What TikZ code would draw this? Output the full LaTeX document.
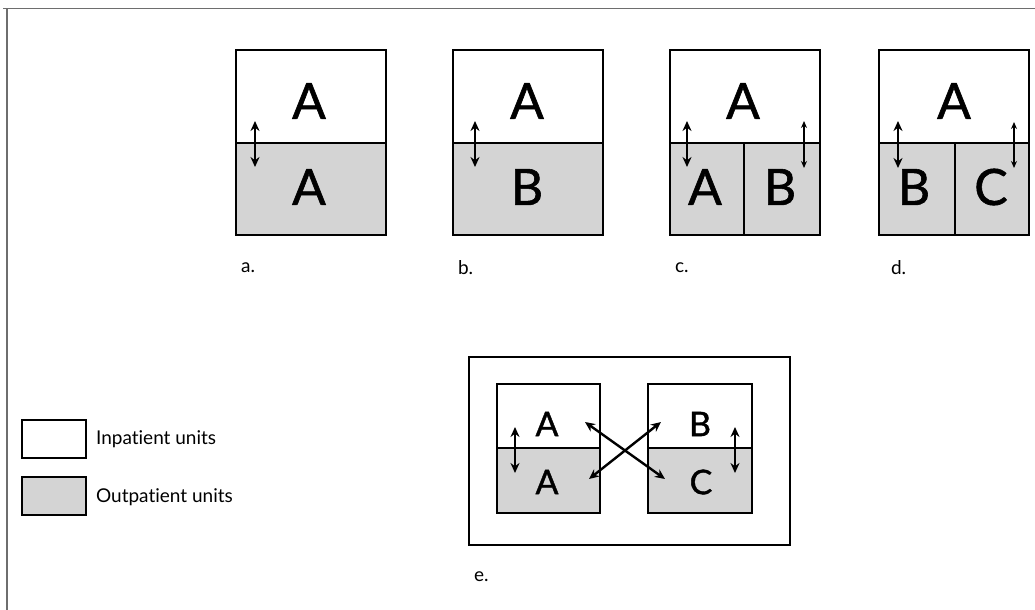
\documentclass[tikz,border=0pt]{standalone}
\usepackage{fontspec}
\setmainfont{Lato}[Ligatures=NoCommon]
\newfontfamily\letterfont{Lato}[FakeBold=1.2]
\usetikzlibrary{arrows.meta}
\definecolor{outgray}{RGB}{212,212,212}
\definecolor{framegray}{RGB}{110,110,110}
\tikzset{
	unit/.style={draw=black, line width=1.4pt},
	split/.style={draw=black, line width=1.2pt},
	outpatient/.style={fill=outgray},
	link/.style={{Stealth[length=5pt,width=4.5pt]}-{Stealth[length=5pt,width=4.5pt]}, line width=1.2pt},
	thinlink/.style={{Stealth[length=3.5pt,width=3pt]}-{Stealth[length=3.5pt,width=3pt]}, line width=0.6pt},
	big/.style={font=\letterfont\fontsize{25}{25}\selectfont},
	mid/.style={font=\letterfont\fontsize{17}{17}\selectfont},
	tag/.style={font=\fontsize{9.5}{10}\selectfont, anchor=west}
}
\begin{document}
\begin{tikzpicture}[x=0.5pt, y=-0.5pt]
	\useasboundingbox (0,0) rectangle (1035,610);
	% page frame
	\draw[framegray, line width=0.6pt] (3,8.5) -- (1035,8.5);
	\draw[framegray, line width=0.6pt] (7,8.5) -- (7,610);

	% a. and b.
	\foreach \xl/\xr in {236/386, 453/603} {
		\fill[outpatient] (\xl,143) rectangle (\xr,235);
		\draw[split] (\xl,143) -- (\xr,143);
		\draw[unit] (\xl,50) rectangle (\xr,235);
	}
	% c. and d.
	\foreach \xl/\xm/\xr in {670/744/820, 879/955/1029} {
		\fill[outpatient] (\xl,143) rectangle (\xr,235);
		\draw[split] (\xl,143) -- (\xr,143);
		\draw[split] (\xm,143) -- (\xm,235);
		\draw[unit] (\xl,50) rectangle (\xr,235);
	}

	\node[big] (aIn) at (309,101) {A};
	\node[big] (aOut) at (309,187) {A};
	\node[big] (bIn) at (527,101) {A};
	\node[big] (bOut) at (527,187) {B};
	\node[big] (cIn) at (743,101) {A};
	\node[big] (cOutL) at (705,187) {A};
	\node[big] (cOutR) at (780,187) {B};
	\node[big] (dIn) at (954,101) {A};
	\node[big] (dOutL) at (914,187) {B};
	\node[big] (dOutR) at (991,187) {C};

	\coordinate (aUp) at (255,121); \coordinate (aDn) at (255,167);
	\coordinate (bUp) at (475,121); \coordinate (bDn) at (475,167);
	\coordinate (cUp) at (687,121); \coordinate (cDn) at (687,167);
	\coordinate (cUp2) at (804,121); \coordinate (cDn2) at (804,168);
	\coordinate (dUp) at (898,121); \coordinate (dDn) at (898,168);
	\coordinate (dUp2) at (1014,122); \coordinate (dDn2) at (1014,168);
	\draw[link] (aUp) -- (aDn);
	\draw[link] (bUp) -- (bDn);
	\draw[link] (cUp) -- (cDn);
	\draw[thinlink] (cUp2) -- (cDn2);
	\draw[link] (dUp) -- (dDn);
	\draw[thinlink] (dUp2) -- (dDn2);

	\node[tag] (aTag) at (234,268) {a.};
	\node[tag] (bTag) at (451,268) {b.};
	\node[tag] (cTag) at (668,268) {c.};
	\node[tag] (dTag) at (884,268) {d.};

	% e.
	\draw[unit] (469,357) rectangle (790,545);
	\foreach \xl/\xr in {497/600, 648/752} {
		\fill[outpatient] (\xl,448) rectangle (\xr,513);
		\draw[split] (\xl,448) -- (\xr,448);
		\draw[unit] (\xl,384) rectangle (\xr,513);
	}
	\node[mid] (eInL) at (547,424) {A};
	\node[mid] (eOutL) at (547,482) {A};
	\node[mid] (eInR) at (700,424) {B};
	\node[mid] (eOutR) at (701,482) {C};

	\coordinate (eUpL) at (515,427); \coordinate (eDnL) at (515,473);
	\coordinate (eUpR) at (735,427); \coordinate (eDnR) at (735,473);
	\coordinate (eX1) at (585,422); \coordinate (eX2) at (665,479);
	\coordinate (eX3) at (661,422); \coordinate (eX4) at (589,479);
	\draw[link] (eUpL) -- (eDnL);
	\draw[link] (eUpR) -- (eDnR);
	\draw[link] (eX1) -- (eX2);
	\draw[link] (eX3) -- (eX4);

	\node[tag] (eTag) at (467,577) {e.};

	% legend
	\draw[unit] (22,420) rectangle (86,458);
	\draw[unit, outpatient] (22,477) rectangle (86,515);
	\node[tag] (inTxt) at (89,439) {Inpatient units};
	\node[tag] (outTxt) at (89,497) {Outpatient units};
\end{tikzpicture}
\end{document}
